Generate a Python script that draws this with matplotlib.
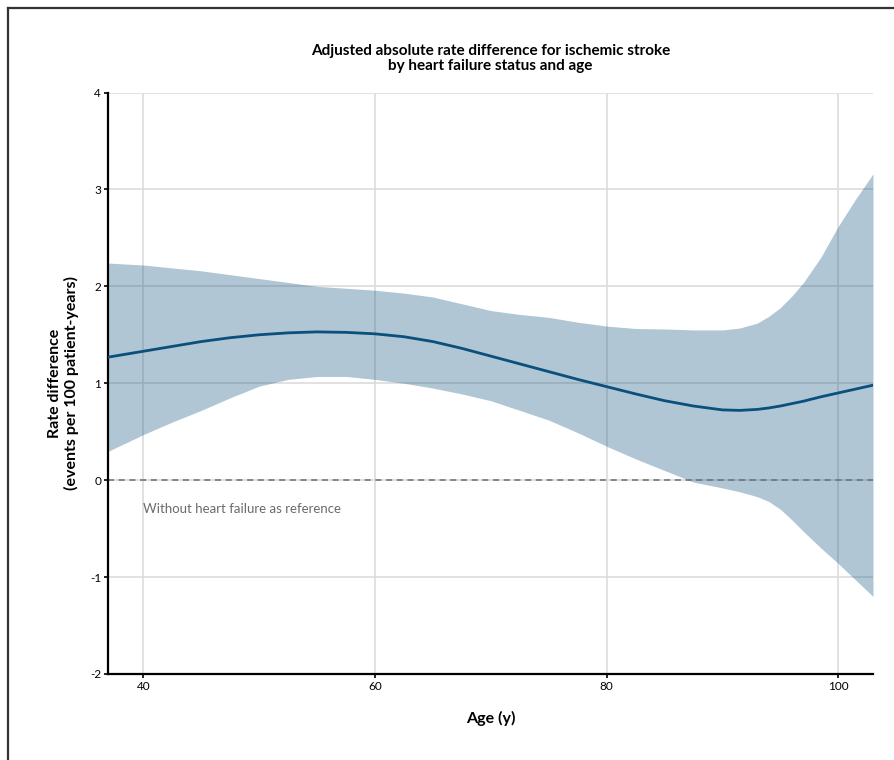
import matplotlib.pyplot as plt
from matplotlib.lines import Line2D

plt.rcParams['font.family'] = ['Lato', 'DejaVu Sans']
plt.rcParams['axes.unicode_minus'] = False

# Age (years) and values
age = [37, 40, 42.5, 45, 47.5, 50, 52.5, 55, 57.5, 60, 62.5, 65, 67.5, 70,
       72.5, 75, 77.5, 80, 82.5, 85, 87.5, 90, 91.5, 93, 94, 95, 96, 97,
       98.5, 100, 101.5, 103]
rate_diff = [1.27, 1.33, 1.38, 1.43, 1.47, 1.50, 1.52, 1.53, 1.525, 1.51,
             1.48, 1.43, 1.36, 1.28, 1.20, 1.12, 1.04, 0.965, 0.89, 0.82,
             0.765, 0.725, 0.72, 0.73, 0.745, 0.765, 0.79, 0.815, 0.86, 0.90,
             0.94, 0.98]
upper = [2.24, 2.22, 2.19, 2.16, 2.12, 2.08, 2.04, 2.00, 1.98, 1.96,
         1.93, 1.89, 1.82, 1.75, 1.71, 1.68, 1.63, 1.59, 1.565, 1.56,
         1.55, 1.55, 1.57, 1.62, 1.69, 1.78, 1.90, 2.04, 2.30, 2.62,
         2.90, 3.16]
lower = [0.30, 0.47, 0.60, 0.72, 0.85, 0.97, 1.04, 1.07, 1.07, 1.04,
         1.00, 0.95, 0.89, 0.82, 0.72, 0.62, 0.49, 0.35, 0.22, 0.10,
         -0.02, -0.08, -0.12, -0.17, -0.22, -0.30, -0.41, -0.53, -0.70, -0.86,
         -1.03, -1.20]

x_ticks = [40, 60, 80, 100]
y_ticks = [-2, -1, 0, 1, 2, 3, 4]

blue = '#0b4f7c'

fig = plt.figure(figsize=(8.94, 7.6), dpi=100)
ax = fig.add_axes([108 / 894, 1 - 674 / 760, (873 - 108) / 894, (674 - 92.5) / 760])

# grid
for v in x_ticks:
    ax.axvline(v, color='#dcdcdc', lw=1.2, zorder=0)
for v in y_ticks:
    ax.axhline(v, color='#dcdcdc', lw=1.2, zorder=0)

ax.fill_between(age, lower, upper, color=blue, alpha=0.32, lw=0, zorder=1)
ax.axhline(0, color='#6e6e6e', lw=1.1, ls=(0, (4, 3)), zorder=2)
ax.plot(age, rate_diff, color=blue, lw=2.0, zorder=3)

ax.text(40, -0.30, 'Without heart failure as reference', color='#6b6b6b',
        fontsize=9.5, ha='left', va='center')

ax.set_xlim(36.95, 103.0)
ax.set_ylim(-2, 4)
ax.set_xticks(x_ticks)
ax.set_yticks(y_ticks)
ax.tick_params(length=3, width=1.2, labelsize=8.5, colors='black', pad=2)

for s in ['top', 'right']:
    ax.spines[s].set_visible(False)
for s in ['left', 'bottom']:
    ax.spines[s].set_linewidth(1.6)

ax.set_xlabel('Age (y)', fontsize=11.5, fontweight='bold', labelpad=14)
ax.set_ylabel('Rate difference\n(events per 100 patient-years)', fontsize=11.5,
              fontweight='bold', labelpad=8, linespacing=1.1)
ax.set_title('Adjusted absolute rate difference for ischemic stroke\n'
             'by heart failure status and age', fontsize=11,
             fontweight='bold', pad=16, linespacing=1.1)

# frame border of the original screenshot
fig.add_artist(Line2D([8 / 894, 1.0], [1 - 8 / 760, 1 - 8 / 760],
                      transform=fig.transFigure, color='#333333', lw=1.6))
fig.add_artist(Line2D([8 / 894, 8 / 894], [0, 1 - 8 / 760],
                      transform=fig.transFigure, color='#333333', lw=1.6))

fig.savefig('out.png', dpi=100)
